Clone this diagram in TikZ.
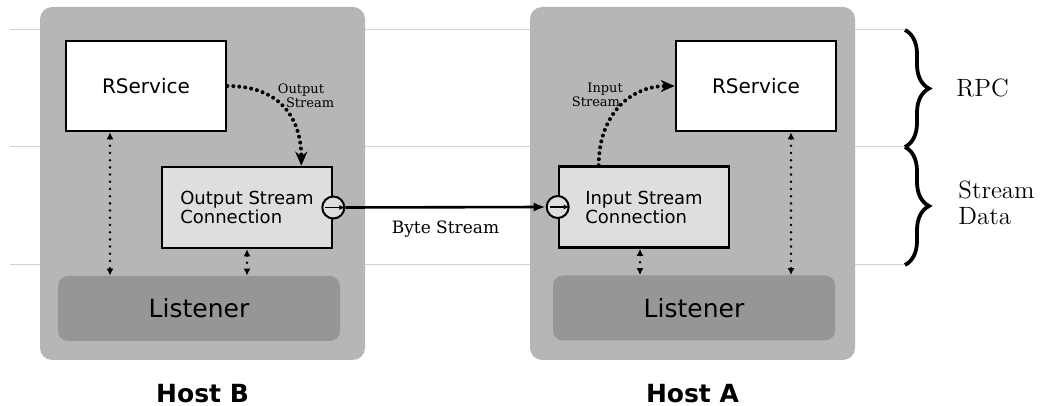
\documentclass[tikz,border=0pt]{standalone}
\usepackage{fontspec}
\setsansfont{DejaVu Sans}
\newfontfamily\labelfont{DejaVu Serif}
\usepackage{tikz}
\usetikzlibrary{arrows.meta,decorations.pathreplacing,positioning}
\definecolor{hostgray}{RGB}{182,182,182}
\definecolor{listgray}{RGB}{150,150,150}
\definecolor{connfill}{RGB}{222,222,222}
\definecolor{rulegray}{RGB}{210,210,210}

\begin{document}
\begin{tikzpicture}[x=0.5pt,y=-0.5pt,
	host/.style={fill=hostgray,rounded corners=6pt,minimum width=162.5pt,minimum height=176.5pt},
	service/.style={draw,line width=1.3pt,fill=white,minimum width=80pt,minimum height=45pt,font=\sffamily\fontsize{10}{12}\selectfont},
	conn/.style={draw,line width=1.3pt,fill=connfill,minimum width=85pt,minimum height=40.5pt,align=left,font=\sffamily\fontsize{9}{9.5}\selectfont},
	listener/.style={fill=listgray,rounded corners=5pt,minimum width=141pt,minimum height=32.5pt,font=\sffamily\fontsize{12.5}{14}\selectfont},
	socket/.style={circle,draw,line width=1pt,fill=connfill,minimum size=11pt,inner sep=0pt},
	hostname/.style={font=\sffamily\bfseries\fontsize{12.5}{14}\selectfont},
	small/.style={font=\labelfont\fontsize{6.5}{6.8}\selectfont,align=center,inner sep=0pt},
	flow/.style={line width=2pt,line cap=round,dash pattern=on 0pt off 3pt,-{Stealth[length=7pt,width=6pt]}},
	ctl/.style={line width=1.4pt,line cap=round,dash pattern=on 0pt off 3.6pt,{Latex[length=3.5pt,width=3.5pt]}-{Latex[length=3.5pt,width=3.5pt]}},
	layer/.style={draw=rulegray,line width=0.5pt},
	bracket/.style={decorate,decoration={brace,amplitude=12pt},line width=1.9pt},
	side/.style={anchor=west,font=\fontsize{12.5}{13}\selectfont,align=left,inner sep=0pt}]
			\useasboundingbox (0,0) rectangle (1045,406);
			
			\draw[layer] (10,30) -- (905,30);
			\draw[layer] (10,147) -- (905,147);
			\draw[layer] (10,265) -- (905,265);
			
			\node[host] (hostb) at (202.5,183.5) {};
			\node[host] (hosta) at (692.5,183.5) {};
			\node[hostname] (hbname) at ([yshift=-16.5pt]hostb.south) {Host B};
			\node[hostname] (haname) at ([yshift=-16.5pt]hosta.south) {Host A};
			
			\node[service] (rsb) at (146,86) {RService};
			\node[conn] (oscb) at (247,207.5) {Output Stream\\Connection};
			\node[listener] (listb) at (199,308.5) {Listener};
			\node[socket] (sockb) at (oscb.east) {};
			
			\node[service] (rsa) at (756,86) {RService};
			\node[conn] (osca) at (644,207) {Input Stream\\Connection};
			\node[listener] (lista) at (694,308) {Listener};
			\node[socket] (socka) at (osca.west) {};
			
			\draw[-{Latex[length=3pt,width=2.5pt]},line width=0.8pt] ([xshift=2pt]sockb.west) -- (sockb.east);
			\draw[-{Latex[length=3pt,width=2.5pt]},line width=0.8pt] ([xshift=2pt]socka.west) -- (socka.east);
			\draw[line width=1.3pt,-{Latex[length=6pt,width=4.5pt]}] (sockb.east) -- node[below=3pt,font=\labelfont\fontsize{8.5}{9}\selectfont] (bytes) {Byte Stream} (socka.west);
			
			\draw[flow] (rsb.east) .. controls +(55,0) and +(0,-45) .. ([xshift=-16pt]oscb.north east);
			\node[small] (outlbl) at (301,96) {Output\\\hspace*{1.4em}Stream};
			\draw[flow] ([xshift=20.5pt]osca.north west) .. controls +(0,-50) and +(-45,0) .. (rsa.west);
			\node[small] (inlbl) at (596,95) {\hspace*{1.4em}Input\\Stream};
			
			\coordinate (bleft) at ([xshift=-18pt]rsb.south);
			\coordinate (aright) at ([xshift=17.5pt]rsa.south);
			\coordinate (amid) at ([xshift=-2pt]osca.south);
			\draw[ctl] (bleft) -- (bleft |- listb.north);
			\draw[ctl] (oscb.south) -- (oscb.south |- listb.north);
			\draw[ctl] (amid) -- (amid |- lista.north);
			\draw[ctl] (aright) -- (aright |- lista.north);
			
			\coordinate (rpctop) at (905,30);
			\coordinate (rpcbot) at (905,147);
			\coordinate (sdbot) at (905,265);
			\draw[bracket] (rpctop) -- (rpcbot);
			\draw[bracket] (rpcbot) -- (sdbot);
			\node[side] (rpc) at (956,88) {RPC};
			\node[side] (sdata) at (958,203) {Stream\\Data};
\end{tikzpicture}
\end{document}
